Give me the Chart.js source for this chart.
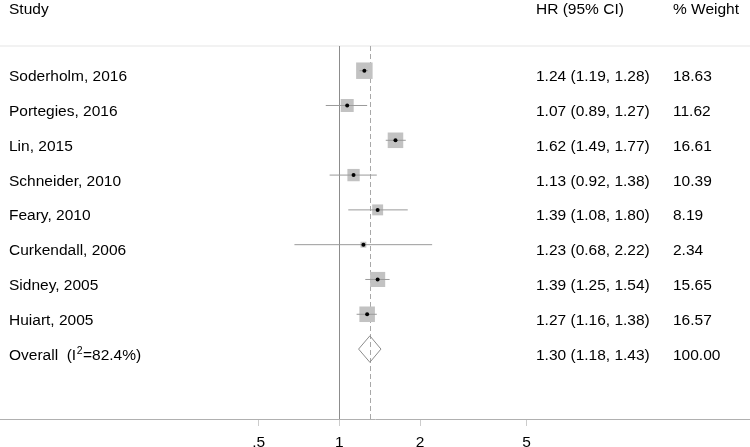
<!DOCTYPE html>
<html>
<head>
<meta charset="utf-8">
<script src="https://cdn.jsdelivr.net/npm/chart.js@4"></script>
<style>
  html, body { margin: 0; padding: 0; background: #fff; }
  #wrap { width: 750px; height: 447px; position: relative; }
</style>
</head>
<body>
<div id="wrap"><canvas id="forest"></canvas></div>
<script>
// ====================== Forest plot data ======================
const studies = ['Soderholm, 2016', 'Portegies, 2016', 'Lin, 2015', 'Schneider, 2010',
  'Feary, 2010', 'Curkendall, 2006', 'Sidney, 2005', 'Huiart, 2005'];
const hr      = [1.24, 1.07, 1.62, 1.13, 1.39, 1.23, 1.39, 1.27];
const lower   = [1.19, 0.89, 1.49, 0.92, 1.08, 0.68, 1.25, 1.16];
const upper   = [1.28, 1.27, 1.77, 1.38, 1.80, 2.22, 1.54, 1.38];
const weights = [18.63, 11.62, 16.61, 10.39, 8.19, 2.34, 15.65, 16.57];

const overallHR = 1.30, overallLo = 1.18, overallHi = 1.43, overallWeight = 100.00;
const overallI2 = '82.4%';

const tickValues = [0.5, 1, 2, 5];
const tickLabels = ['.5', '1', '2', '5'];

const FONT = '15.5px "Liberation Sans", Arial, sans-serif';
const overallRow = studies.length;

// CI segments, one small line dataset each
const ciSets = studies.map((s, i) => ({
  type: 'line',
  data: [{ x: lower[i], y: i }, { x: upper[i], y: i }],
  borderColor: '#9a9a9a',
  borderWidth: 1,
  pointRadius: 0,
  order: 2
}));

// Text columns + reference lines
const forestText = {
  id: 'forestText',
  beforeDatasetsDraw(chart) {
    const { ctx, chartArea, scales } = chart;
    ctx.save();
    // light header rule
    ctx.strokeStyle = '#eeeeee';
    ctx.lineWidth = 1.5;
    ctx.beginPath();
    ctx.moveTo(0, chartArea.top);
    ctx.lineTo(chart.width, chartArea.top);
    ctx.stroke();
    // no-effect line
    const x1 = Math.round(scales.x.getPixelForValue(1)) + 0.5;
    ctx.strokeStyle = '#8c8c8c';
    ctx.lineWidth = 1;
    ctx.beginPath();
    ctx.moveTo(x1, chartArea.top);
    ctx.lineTo(x1, chartArea.bottom);
    ctx.stroke();
    // overall estimate line
    const xo = Math.round(scales.x.getPixelForValue(overallHR)) + 0.5;
    ctx.strokeStyle = '#a8a8a8';
    ctx.setLineDash([5, 3]);
    ctx.beginPath();
    ctx.moveTo(xo, chartArea.top);
    ctx.lineTo(xo, chartArea.bottom);
    ctx.stroke();
    ctx.restore();
  },
  afterDraw(chart) {
    const { ctx, scales } = chart;
    ctx.save();
    ctx.font = FONT;
    ctx.fillStyle = '#000';
    ctx.textBaseline = 'alphabetic';
    ctx.textAlign = 'left';

    ctx.fillText('Study', 9, 14);
    ctx.fillText('HR (95% CI)', 536, 14);
    ctx.fillText('% Weight', 673, 14);

    const fmt = v => v.toFixed(2);
    studies.forEach((s, i) => {
      const y = scales.y.getPixelForValue(i) + 10.5;
      ctx.fillText(s, 9, y);
      ctx.fillText(`${fmt(hr[i])} (${fmt(lower[i])}, ${fmt(upper[i])})`, 536, y);
      ctx.fillText(fmt(weights[i]), 673, y);
    });

    // Overall row with superscript 2
    const yo = scales.y.getPixelForValue(overallRow) + 10.5;
    let x = 9;
    const part1 = 'Overall  (I';
    ctx.fillText(part1, x, yo);
    x += ctx.measureText(part1).width;
    ctx.font = '10.5px "Liberation Sans", Arial, sans-serif';
    ctx.fillText('2', x + 0.5, yo - 6);
    x += ctx.measureText('2').width + 1;
    ctx.font = FONT;
    ctx.fillText('=' + overallI2 + ')', x, yo);
    ctx.fillText(`${fmt(overallHR)} (${fmt(overallLo)}, ${fmt(overallHi)})`, 536, yo);
    ctx.fillText(fmt(overallWeight), 673, yo);
    ctx.restore();
  }
};

const chart = new Chart(document.getElementById('forest'), {
  type: 'scatter',
  data: {
    datasets: [
      {
        // weight boxes
        data: hr.map((v, i) => ({ x: v, y: i })),
        pointStyle: 'rect',
        pointRadius: ctx => 2.7 * Math.sqrt(weights[ctx.dataIndex]),
        backgroundColor: '#c2c2c2',
        borderWidth: 0,
        order: 3
      },
      ...ciSets,
      {
        // point estimates
        data: hr.map((v, i) => ({ x: v, y: i })),
        pointStyle: 'circle',
        pointRadius: 2,
        backgroundColor: '#000',
        borderWidth: 0,
        order: 1
      },
      {
        // pooled diamond
        type: 'line',
        data: [
          { x: overallLo, y: overallRow },
          { x: overallHR, y: overallRow - 0.38 },
          { x: overallHi, y: overallRow },
          { x: overallHR, y: overallRow + 0.38 },
          { x: overallLo, y: overallRow }
        ],
        borderColor: '#8c8c8c',
        borderWidth: 1,
        pointRadius: 0,
        tension: 0,
        fill: false,
        order: 1
      }
    ]
  },
  options: {
    responsive: true,
    maintainAspectRatio: false,
    animation: false,
    layout: { autoPadding: false, padding: { top: 46, left: 0, right: 0, bottom: 0 } },
    plugins: { legend: { display: false }, tooltip: { enabled: false } },
    scales: {
      x: {
        type: 'logarithmic',
        min: 0.0542,
        max: 34.06,
        afterBuildTicks: s => { s.ticks = tickValues.map(v => ({ value: v })); },
        afterFit: s => {
          s.height = 28;
          s.paddingLeft = 0;
          s.paddingRight = 0;
        },
        grid: { drawOnChartArea: false, drawTicks: true, tickLength: 7, tickColor: '#cccccc' },
        border: { display: true, color: '#b0b0b0', width: 1 },
        ticks: {
          font: { family: '"Liberation Sans", Arial, sans-serif', size: 15.5 },
          color: '#000',
          padding: 7,
          maxRotation: 0,
          autoSkip: false,
          callback: (v) => {
            const k = tickValues.indexOf(v);
            return k >= 0 ? tickLabels[k] : '';
          }
        }
      },
      y: {
        type: 'linear',
        display: false,
        reverse: true,
        min: -0.71,
        max: 10.01
      }
    }
  },
  plugins: [forestText]
});
</script>
</body>
</html>
